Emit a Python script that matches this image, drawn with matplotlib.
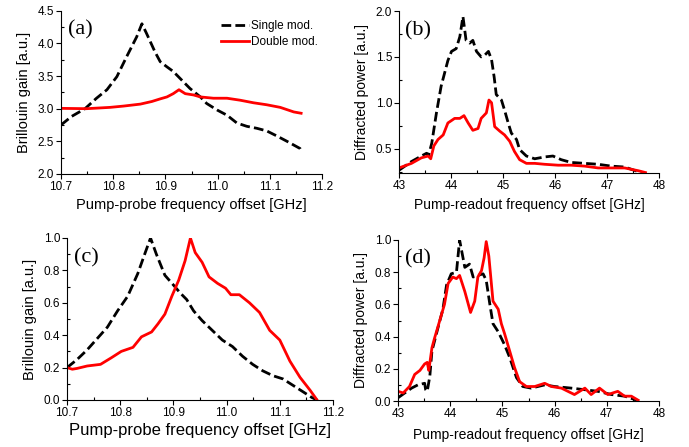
import matplotlib
matplotlib.use("Agg")
import matplotlib.pyplot as plt
from matplotlib.ticker import MultipleLocator

# ---------------- data ----------------
# (a) Brillouin gain vs pump-probe offset
a_single_x = [10.700, 10.720, 10.746, 10.768, 10.788, 10.807, 10.826, 10.845, 10.855, 10.864,
              10.880, 10.890, 10.903, 10.915, 10.931, 10.947, 10.967, 10.979, 10.999, 11.018,
              11.037, 11.056, 11.075, 11.094, 11.114, 11.133, 11.158, 11.160]
a_single_y = [2.75, 2.88, 3.00, 3.16, 3.29, 3.49, 3.80, 4.10, 4.30, 4.15,
              3.87, 3.72, 3.64, 3.57, 3.44, 3.31, 3.18, 3.08, 2.98, 2.90,
              2.78, 2.73, 2.70, 2.66, 2.58, 2.50, 2.39, 2.36]
a_double_x = [10.700, 10.749, 10.794, 10.820, 10.852, 10.874, 10.890, 10.903, 10.915, 10.926,
              10.938, 10.954, 10.967, 10.992, 11.018, 11.043, 11.069, 11.094, 11.120, 11.146, 11.160]
a_double_y = [3.005, 3.00, 3.02, 3.04, 3.07, 3.11, 3.15, 3.18, 3.23, 3.29,
              3.23, 3.21, 3.18, 3.16, 3.16, 3.13, 3.09, 3.06, 3.02, 2.95, 2.93]

# (b) Diffracted power vs pump-readout offset
b_single_x = [43.00, 43.24, 43.43, 43.53, 43.57, 43.63, 43.72, 43.81, 43.94, 44.01,
              44.10, 44.17, 44.23, 44.29, 44.36, 44.42, 44.49, 44.58, 44.65, 44.72,
              44.78, 44.83, 44.87, 44.97, 45.03, 45.10, 45.16, 45.26, 45.32, 45.45,
              45.61, 45.80, 45.96, 46.12, 46.31, 46.57, 46.83, 47.08, 47.34, 47.60, 47.72]
b_single_y = [0.265, 0.36, 0.42, 0.45, 0.43, 0.56, 0.89, 1.18, 1.46, 1.56,
              1.59, 1.72, 1.94, 1.68, 1.65, 1.68, 1.56, 1.50, 1.52, 1.56,
              1.47, 1.28, 1.09, 1.03, 0.92, 0.78, 0.67, 0.60, 0.49, 0.42,
              0.39, 0.41, 0.42, 0.38, 0.35, 0.34, 0.33, 0.31, 0.30, 0.25, 0.235]
b_double_x = [43.00, 43.24, 43.43, 43.56, 43.61, 43.67, 43.75, 43.85, 43.94, 44.07,
              44.17, 44.25, 44.33, 44.42, 44.52, 44.58, 44.68, 44.73, 44.78, 44.84,
              44.94, 45.03, 45.13, 45.22, 45.32, 45.45, 45.61, 45.80, 46.06, 46.31,
              46.57, 46.83, 47.08, 47.34, 47.60, 47.74]
b_double_y = [0.29, 0.34, 0.40, 0.42, 0.39, 0.53, 0.60, 0.65, 0.78, 0.83,
              0.83, 0.86, 0.78, 0.70, 0.72, 0.83, 0.89, 1.03, 1.00, 0.74,
              0.69, 0.65, 0.58, 0.47, 0.38, 0.34, 0.34, 0.33, 0.32, 0.32,
              0.31, 0.29, 0.29, 0.29, 0.26, 0.24]

# (c) Normalised Brillouin gain
c_single_x = [10.700, 10.719, 10.738, 10.757, 10.776, 10.795, 10.814, 10.833, 10.846, 10.857,
              10.868, 10.884, 10.900, 10.913, 10.925, 10.938, 10.954, 10.973, 10.992, 11.011,
              11.030, 11.049, 11.068, 11.087, 11.106, 11.125, 11.144, 11.160, 11.170]
c_single_y = [0.20, 0.25, 0.31, 0.38, 0.45, 0.55, 0.64, 0.78, 0.90, 1.00,
              0.90, 0.77, 0.71, 0.66, 0.62, 0.55, 0.49, 0.43, 0.37, 0.33,
              0.27, 0.22, 0.18, 0.15, 0.13, 0.09, 0.05, 0.016, 0.0]
c_double_x = [10.700, 10.710, 10.719, 10.738, 10.763, 10.783, 10.802, 10.824, 10.840, 10.859,
              10.871, 10.884, 10.897, 10.910, 10.922, 10.932, 10.941, 10.954, 10.967, 10.983,
              10.998, 11.008, 11.024, 11.043, 11.062, 11.081, 11.100, 11.119, 11.138, 11.157, 11.170]
c_double_y = [0.20, 0.19, 0.195, 0.21, 0.22, 0.26, 0.30, 0.325, 0.39, 0.42,
              0.47, 0.53, 0.64, 0.74, 0.86, 1.00, 0.91, 0.85, 0.76, 0.72,
              0.69, 0.65, 0.65, 0.60, 0.54, 0.43, 0.37, 0.24, 0.14, 0.06, 0.0]

# (d) Normalised diffracted power
d_single_x = [43.00, 43.13, 43.26, 43.38, 43.51, 43.53, 43.56, 43.61, 43.65, 43.77,
              43.86, 43.93, 44.02, 44.12, 44.18, 44.28, 44.37, 44.44, 44.53, 44.63,
              44.69, 44.76, 44.82, 44.92, 45.04, 45.14, 45.27, 45.39, 45.55, 45.81,
              46.00, 46.32, 46.58, 46.83, 47.09, 47.34, 47.53, 47.60]
d_single_y = [0.02, 0.05, 0.08, 0.10, 0.11, 0.07, 0.06, 0.155, 0.31, 0.46,
              0.57, 0.72, 0.79, 0.80, 1.00, 0.83, 0.85, 0.77, 0.78, 0.79,
              0.75, 0.60, 0.48, 0.43, 0.35, 0.27, 0.145, 0.09, 0.08, 0.10,
              0.09, 0.08, 0.07, 0.06, 0.04, 0.03, 0.01, 0.0]
d_double_x = [43.00, 43.10, 43.22, 43.32, 43.42, 43.51, 43.56, 43.59, 43.65, 43.70,
              43.80, 43.89, 43.96, 44.05, 44.12, 44.18, 44.28, 44.39, 44.47, 44.53,
              44.60, 44.65, 44.69, 44.74, 44.82, 44.92, 44.98, 45.04, 45.14, 45.23,
              45.33, 45.46, 45.62, 45.81, 45.94, 46.13, 46.38, 46.58, 46.70, 46.86,
              47.02, 47.21, 47.34, 47.47, 47.60]
d_double_y = [0.06, 0.05, 0.09, 0.165, 0.19, 0.23, 0.24, 0.19, 0.33, 0.39,
              0.50, 0.60, 0.73, 0.77, 0.76, 0.78, 0.68, 0.55, 0.62, 0.77,
              0.81, 0.89, 0.99, 0.90, 0.62, 0.57, 0.48, 0.42, 0.31, 0.21,
              0.12, 0.09, 0.09, 0.11, 0.09, 0.08, 0.04, 0.08, 0.04, 0.08,
              0.04, 0.06, 0.03, 0.03, 0.005]

legend_labels = ["Single mod.", "Double mod."]
panel_labels = ["(a)", "(b)", "(c)", "(d)"]

# ---------------- figure ----------------
plt.rcParams['font.family'] = ['Liberation Sans', 'DejaVu Sans']
W, H = 689, 447
fig = plt.figure(figsize=(W / 100, H / 100), dpi=100)


def px_axes(l, r, t, b):
    return fig.add_axes([l / W, 1 - b / H, (r - l) / W, (b - t) / H])


ax_a = px_axes(61, 322, 10.7, 174)
ax_b = px_axes(399, 659, 11, 173)
ax_c = px_axes(67, 333, 238, 400)
ax_d = px_axes(398, 659, 240, 401)

lw = 2.0
dash = (3.5, 1.5)
black_kw = dict(color='black', lw=lw, ls=(0, dash))
red_kw = dict(color='#ff0000', lw=lw)

ax_a.plot(a_single_x, a_single_y, label=legend_labels[0], **black_kw)
ax_a.plot(a_double_x, a_double_y, label=legend_labels[1], **red_kw)
ax_b.plot(b_single_x, b_single_y, **black_kw)
ax_b.plot(b_double_x, b_double_y, **red_kw)
ax_c.plot(c_single_x, c_single_y, **black_kw)
ax_c.plot(c_double_x, c_double_y, **red_kw)
ax_d.plot(d_single_x, d_single_y, **black_kw)
ax_d.plot(d_double_x, d_double_y, **red_kw)

for ax in (ax_a, ax_c):
    ax.set_xlim(10.7, 11.2)
    ax.xaxis.set_major_locator(MultipleLocator(0.1))
    ax.xaxis.set_minor_locator(MultipleLocator(0.05))
    ax.xaxis.set_major_formatter(matplotlib.ticker.FormatStrFormatter('%.1f'))
for ax in (ax_b, ax_d):
    ax.set_xlim(43, 48)
    ax.xaxis.set_major_locator(MultipleLocator(1))
    ax.xaxis.set_minor_locator(MultipleLocator(0.5))

ax_a.set_ylim(2.0, 4.5)
ax_a.yaxis.set_major_locator(MultipleLocator(0.5))
ax_a.yaxis.set_minor_locator(MultipleLocator(0.25))
ax_b.set_ylim(0.235, 2.0)
ax_b.yaxis.set_major_locator(MultipleLocator(0.5))
ax_b.yaxis.set_minor_locator(MultipleLocator(0.25))
for ax in (ax_c, ax_d):
    ax.set_ylim(0.0, 1.0)
    ax.yaxis.set_major_locator(MultipleLocator(0.2))
    ax.yaxis.set_minor_locator(MultipleLocator(0.1))
for ax in (ax_a, ax_b, ax_c, ax_d):
    ax.yaxis.set_major_formatter(matplotlib.ticker.FormatStrFormatter('%.1f'))
ax_b.xaxis.set_major_formatter(matplotlib.ticker.FormatStrFormatter('%d'))
ax_d.xaxis.set_major_formatter(matplotlib.ticker.FormatStrFormatter('%d'))

for ax in (ax_a, ax_b, ax_c, ax_d):
    ax.spines['top'].set_visible(False)
    ax.spines['right'].set_visible(False)
    ax.tick_params(which='major', direction='out', length=3.5, width=0.8, labelsize=8.5, pad=1.5)
    ax.tick_params(which='minor', direction='in', length=2.5, width=0.8)
    ax.patch.set_alpha(0)

ax_a.set_xlabel("Pump-probe frequency offset [GHz]", fontsize=10.5, labelpad=4)
ax_a.set_ylabel("Brillouin gain [a.u.]", fontsize=10.5, labelpad=5)
ax_b.set_xlabel("Pump-readout frequency offset [GHz]", fontsize=10, labelpad=4)
ax_b.set_ylabel("Diffracted power [a.u.]", fontsize=10, labelpad=5)
ax_c.set_xlabel("Pump-probe frequency offset [GHz]", fontsize=12, labelpad=3)
ax_c.set_ylabel("Brillouin gain [a.u.]", fontsize=10.5, labelpad=5)
ax_d.set_xlabel("Pump-readout frequency offset [GHz]", fontsize=10, labelpad=6)
ax_d.set_ylabel("Diffracted power [a.u.]", fontsize=10, labelpad=5)

for ax, lab in zip((ax_a, ax_b, ax_c, ax_d), panel_labels):
    ax.text(0.025, 0.88, lab, transform=ax.transAxes, fontsize=16,
            family=['Liberation Serif', 'DejaVu Serif'], va='center', ha='left')

leg = ax_a.legend(loc='upper right', bbox_to_anchor=(1.02, 1.0), frameon=False,
                  fontsize=8.5, handlelength=2.3, handletextpad=0.2,
                  labelspacing=0.3, borderpad=0.3)

fig.savefig("out.png", dpi=100)
